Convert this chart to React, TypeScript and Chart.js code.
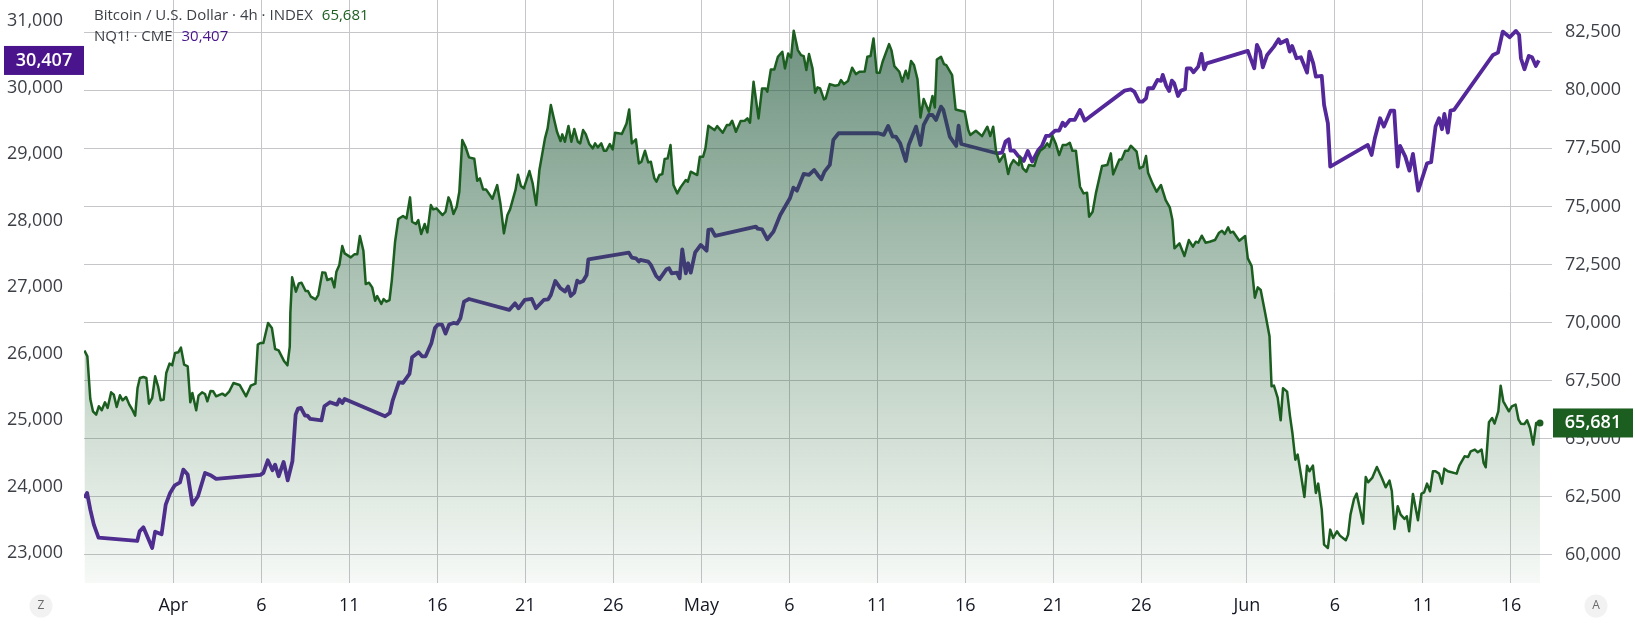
import React, { useEffect, useRef } from 'react';
import { Chart, registerables } from 'chart.js';

Chart.register(...registerables);

// x positions are counted in 4h bars since Apr 1
const tickBars = [0, 30, 60, 90, 120, 150, 180, 210, 240, 270, 300, 330, 366, 396, 426, 456];
const tickLabels = ['Apr', '6', '11', '16', '21', '26', 'May', '6', '11', '16', '21', '26', 'Jun', '6', '11', '16'];
const monthBars = [0, 180, 366];
const nqTicks = [23000, 24000, 25000, 26000, 27000, 28000, 29000, 30000, 31000];
const btcTicks = [60000, 62500, 65000, 67500, 70000, 72500, 75000, 77500, 80000, 82500];

const btcBars = [
  -30.3, -29.3, -28.3, -27.4, -26.3, -25.4, -24.4, -23.3, -22.4, -21.2, -20.3, -19.3, -18.2, -17.3, -16.1, -15, -14.1, -13, -12.2, -11.4,
  -10.2, -9.2, -8.3, -7.2, -6.2, -5.2, -4.3, -3.3, -2.4, -1.3, -0.4, 0.6, 1.7, 2.6, 3.7, 4.9, 5.8, 6.5, 7.8, 8.6,
  9.8, 10.8, 11.6, 12.7, 13.6, 14.6, 16.7, 17.7, 19.1, 20.5, 22.6, 24.8, 26.4, 28, 28.8, 29.7, 30.7, 32.3, 33.6, 34.7,
  35.9, 37.8, 38.9, 39.7, 39.9, 40.5, 41.8, 42.8, 43.7, 45.1, 45.9, 46.9, 48.5, 49.4, 50.8, 51.8, 52.5, 54, 54.9, 55.6,
  56.6, 57.6, 58.4, 60.5, 61.7, 62.7, 63.6, 64.8, 65.6, 66.7, 67.8, 68.8, 69.5, 70.9, 71.7, 72.6, 73.7, 74.5, 75.6, 76.7,
  78.3, 79.5, 80.7, 81.4, 82.7, 83.5, 84.5, 85.7, 86.6, 87.8, 88.6, 89.7, 91.8, 92.8, 93.8, 94.5, 95.5, 96.6, 97.5, 98.5,
  99.6, 100.8, 102.6, 103.6, 104.5, 105.6, 106.6, 108.8, 110.4, 111.5, 112.7, 113.9, 114.8, 116.7, 117.5, 118.5, 119.5, 121.4, 122.5, 123.7,
  124.8, 126.7, 127.6, 128.7, 129.6, 130.8, 132, 132.6, 133.5, 134.7, 135.7, 136.7, 137.9, 138.7, 139.7, 140.6, 141.8, 143, 143.8, 144.7,
  145.9, 146.8, 147.6, 148.8, 149.8, 150.6, 152.2, 152.9, 154.5, 155.4, 156.3, 157.7, 158.7, 159.6, 160.8, 161.9, 162.8, 164, 164.7, 165.7,
  166.7, 167.5, 168.5, 169.5, 170.5, 171.8, 172.9, 174.7, 175.4, 176.4, 178.6, 179.5, 180.6, 181.4, 182.4, 184.5, 185.4, 187.3, 188.7, 189.6,
  190.5, 191.8, 193.4, 194.8, 195.7, 196.6, 197.8, 199.5, 200.7, 201.9, 202.5, 203.7, 204.9, 206.1, 207.6, 208.5, 209.6, 210.6, 211.5, 212.9,
  214, 214.9, 215.8, 216.7, 217.9, 218.8, 219.6, 220.5, 221.8, 222.4, 223.8, 225.6, 226.8, 227.6, 228.6, 230, 231.4, 232.7, 233.9, 235.7,
  236.6, 237.7, 238.7, 239.8, 240.8, 241.8, 244, 244.8, 245.8, 247.5, 248.5, 249.7, 250.5, 251.5, 252.5, 253.7, 254.7, 255.8, 257.6, 258.8,
  259.6, 260.3, 261.7, 262.7, 263.5, 265.5, 266.7, 269.8, 271, 271.7, 273.6, 275.7, 277.5, 278.5, 279.5, 280.5, 281.6, 283.3, 284.6, 285.4,
  286.4, 288.2, 288.6, 289.6, 290.8, 291.7, 293.5, 294.5, 295.5, 296.9, 297.9, 298.7, 299.7, 300.8, 302, 303.2, 304.4, 305.6, 306.5, 307.7,
  309.1, 310.3, 311.5, 312.2, 313.4, 314.5, 316.6, 318.4, 319.6, 320.4, 322.5, 323.3, 324.5, 325.5, 326.4, 328.4, 329.4, 330.6, 331.6, 332.3,
  333.8, 335.2, 336.7, 338.3, 339.7, 340.6, 341.3, 343, 344.7, 346.2, 347.6, 348.6, 349.4, 350.6, 351.9, 353.3, 355.1, 356.5, 357.5, 358.4,
  359.6, 360.4, 361.3, 363.4, 365.4, 366.3, 367.6, 368.7, 369.7, 370.7, 372.2, 373.7, 374.4, 375.2, 376.5, 377.5, 378.3, 379.7, 380.7, 381.5,
  382.5, 383.3, 384.5, 385.6, 386.5, 387.3, 388.5, 389.5, 390.3, 391.5, 392.3, 393.6, 394.4, 395.4, 396.7, 397.7, 399.7, 400.5, 401.3, 402.5,
  403.4, 405.6, 406.5, 407.3, 408.7, 410.3, 412, 413.3, 414.6, 415.4, 416.3, 417.4, 418.4, 419.7, 420.5, 421.3, 422.6, 424.3, 425.5, 426.4,
  427.4, 428.4, 429.4, 430.3, 431.5, 432.5, 433.3, 434.5, 437.5, 438.4, 440.2, 441.4, 442.3, 443.7, 444.7, 446, 446.7, 447.4, 448.5, 449.6,
  450.4, 451.7, 452.5, 453.4, 455.3, 456.3, 457.6, 458.6, 459.4, 460.6, 461.5, 462.5, 463.6, 464.6, 465.9,
];
const btcClose = [
  68793, 68549, 66713, 66183, 66039, 66398, 66226, 66570, 66326, 67000, 66900, 66369, 66871, 66656, 66799, 66470, 66283, 65996, 67186, 67617,
  67660, 67617, 66513, 66756, 67688, 67258, 66656, 66685, 67832, 68233, 68162, 68692, 68721, 68922, 68190, 68119, 66570, 66971, 66226, 66857,
  67000, 66928, 66613, 67057, 67043, 66828, 66943, 66857, 67043, 67402, 67316, 66828, 67287, 67373, 69051, 69122, 69122, 69983, 69768, 68864,
  68807, 68334, 68162, 68979, 70426, 71946, 71329, 71688, 71717, 71358, 71358, 71114, 71000, 71186, 72161, 72147, 71831, 71903, 71516, 72190,
  72477, 73294, 72979, 72807, 72936, 72936, 73724, 73093, 71659, 71717, 71516, 70942, 71143, 70799, 71014, 70900, 70971, 71831, 73480, 74456,
  74585, 74484, 75388, 74341, 74241, 74413, 73810, 74241, 73882, 75058, 74871, 74915, 74628, 74771, 75388, 75201, 74671, 74986, 75632, 77854,
  77567, 77108, 77051, 76105, 76205, 75732, 75732, 75330, 75918, 75130, 73839, 74628, 74871, 75732, 76363, 75875, 75775, 76521, 75990, 75058,
  76564, 77926, 78356, 79360, 78858, 78213, 77811, 78098, 77783, 78456, 77783, 78327, 77783, 77711, 78284, 78112, 77682, 77496, 77711, 77539,
  77711, 77395, 77395, 77682, 77453, 78170, 78141, 78112, 78571, 79173, 77711, 77883, 76850, 76922, 77395, 76893, 76922, 76205, 76062, 76349,
  76391, 77037, 77065, 77639, 75918, 75560, 75818, 76133, 76062, 76492, 76349, 77137, 77137, 77496, 78471, 78284, 78456, 78170, 78499, 78499,
  78686, 78213, 78672, 78686, 78786, 78600, 80364, 78786, 80077, 80077, 79933, 80894, 80894, 81439, 81654, 80937, 81583, 81410, 82558, 81726,
  81511, 81468, 80866, 81554, 80937, 79890, 80120, 80077, 79604, 79647, 80263, 80192, 80220, 80435, 80263, 80392, 80966, 80693, 80794, 80808,
  81439, 81468, 82228, 80751, 80751, 81224, 81984, 81726, 81038, 80794, 80364, 80837, 80507, 81253, 81081, 80464, 78829, 79618, 79073, 79747,
  79259, 81324, 81439, 81124, 81081, 80650, 79173, 79073, 78284, 78069, 78256, 78026, 78428, 78026, 78428, 77352, 76922, 77252, 76391, 76779,
  76994, 76779, 77137, 76635, 76492, 76779, 76736, 77137, 77395, 77524, 77711, 77567, 78026, 77711, 77209, 77639, 77639, 77739, 77395, 77395,
  75847, 75560, 75589, 74556, 74771, 75560, 76736, 76779, 77281, 76377, 77022, 77022, 77395, 77395, 77610, 77352, 76635, 76707, 77166, 76449,
  75990, 75632, 75918, 75273, 74958, 74412, 73194, 73409, 72864, 73552, 73265, 73481, 73438, 73739, 73438, 73481, 73552, 73868, 73954, 73810,
  74097, 73868, 73911, 73523, 73724, 72764, 72434, 71071, 71516, 71401, 70426, 69409, 67258, 67287, 66756, 65795, 67172, 67029, 65968, 65251,
  64103, 64319, 63386, 62497, 63845, 63601, 63845, 62669, 63071, 61952, 60447, 60303, 61092, 60733, 61020, 60834, 60633, 60877, 61737, 62411,
  62641, 61350, 63358, 63128, 63315, 63788, 63315, 62913, 63200, 62741, 61121, 62096, 61737, 61551, 61666, 61020, 62626, 61494, 62641, 62698,
  63071, 62741, 63601, 63601, 63501, 63071, 63716, 63601, 63501, 63845, 64247, 64218, 64462, 64534, 64419, 64534, 63960, 63774, 65709, 65896,
  65652, 66183, 67287, 66613, 66183, 66398, 66470, 65824, 65652, 65638, 65795, 65466, 64749, 65681, 65681,
];

const nqBars = [
  -30.3, -29.4, -28.3, -27.1, -25.5, -12.3, -11.5, -10.2, -7.2, -6.2, -4, -2.6, -1.1, 0.5, 2.3, 3.4, 4.9, 6.5, 8.4, 10.8,
  12.9, 14.6, 29.7, 30.7, 32.2, 33.8, 34.7, 35.9, 37.6, 39, 40.6, 41.7, 42.5, 43.5, 44.9, 45.7, 46.7, 50.5, 51.5, 53.4,
  55.8, 56.6, 57.6, 58.4, 72.2, 73.8, 74.8, 76.9, 78.3, 80.5, 81.4, 83.6, 84.8, 86, 88, 89.2, 90.2, 91.6, 92.8, 94,
  95.5, 96.8, 97.9, 99.1, 100.8, 114.5, 116.5, 117.7, 119.8, 122.2, 123.6, 126.3, 127.8, 128.7, 130.2, 132, 133.5, 134.6, 135.5, 136.7,
  137.7, 138.5, 139.7, 140.9, 141.5, 155.3, 156.3, 157.7, 158.7, 159.2, 161.9, 162.8, 164.6, 165.7, 168.1, 169, 169.9, 171.7, 172.6, 173.5,
  174.7, 175.5, 176.4, 177.9, 179.8, 181.8, 182.4, 183.5, 184.7, 198.6, 199.2, 200.7, 202.5, 204.6, 206.9, 210.2, 211.4, 212.6, 214.9, 216.7,
  218.5, 219.7, 220.9, 222, 223.8, 225, 226.8, 240.3, 242.2, 243.7, 245.2, 246.3, 247.8, 249.7, 250.7, 253.2, 254.7, 255.8, 257.6, 258.8,
  260, 261.7, 262.5, 264.7, 266.9, 267.7, 268.6, 280.7, 282.5, 283.7, 284.8, 285.4, 286.6, 288, 289.9, 291.3, 292.8, 294.9, 296.1, 297.5,
  298.7, 300.6, 302, 303.2, 304, 305.6, 307.3, 309.1, 310.7, 312.2, 324.3, 326.4, 327.6, 329.3, 330.4, 331.6, 332.3, 334, 335.5, 336.7,
  337.3, 338.5, 339.5, 340.4, 341.2, 342.5, 343.5, 344.9, 345.5, 346.8, 347.8, 349.4, 350.5, 351.4, 352.3, 366.3, 368.5, 369.4, 370.5, 371.4,
  372.9, 375.2, 376.8, 377.4, 379.6, 380.6, 381.4, 382.9, 384.4, 386.5, 387.3, 388.6, 389.5, 391.5, 392.3, 393.6, 394.4, 407.2, 408.5, 409.6,
  411.4, 412.7, 415, 416.2, 417.4, 418.2, 420, 421.4, 422.6, 424.4, 427.4, 428.8, 430.3, 431.5, 432.5, 433.3, 434.5, 435.4, 436.6, 449.9,
  451.6, 453.2, 455.6, 457.7, 458.8, 459.4, 460.6, 462.1, 463.2, 464.5, 465.5,
];
const nqClose = [
  23828, 23903, 23652, 23427, 23231, 23181, 23326, 23387, 23076, 23321, 23281, 23727, 23903, 24018, 24063, 24254, 24179, 23727, 23853, 24204,
  24164, 24114, 24174, 24204, 24394, 24244, 24329, 24154, 24369, 24093, 24379, 25081, 25171, 25181, 25066, 25066, 25016, 24996, 25206, 25267,
  25231, 25307, 25256, 25317, 25056, 25106, 25297, 25567, 25557, 25693, 25943, 26018, 25958, 25958, 26159, 26384, 26435, 26435, 26299, 26435,
  26460, 26450, 26535, 26780, 26820, 26655, 26755, 26680, 26805, 26820, 26680, 26805, 26815, 26880, 27091, 26981, 26931, 27006, 26865, 26915,
  27096, 27066, 27091, 27181, 27417, 27517, 27442, 27432, 27382, 27407, 27382, 27332, 27166, 27116, 27266, 27282, 27206, 27216, 27131, 27567,
  27206, 27357, 27216, 27522, 27632, 27547, 27858, 27868, 27768, 27908, 27878, 27868, 27718, 27833, 28084, 28334, 28495, 28449, 28700, 28685,
  28760, 28685, 28620, 28735, 28836, 29212, 29312, 29312, 29287, 29422, 29262, 29262, 29161, 28896, 29136, 29412, 29136, 29437, 29587, 29587,
  29512, 29713, 29663, 29262, 29121, 29427, 29151, 29011, 29021, 29187, 29222, 29051, 29051, 28971, 28896, 29046, 28886, 29061, 29121, 29272,
  29272, 29352, 29352, 29472, 29422, 29512, 29512, 29663, 29502, 29552, 29953, 29973, 29938, 29788, 29788, 29838, 29989, 29989, 30114, 30099,
  30189, 30024, 29948, 30104, 30064, 29873, 29953, 29973, 30289, 30289, 30229, 30314, 30505, 30274, 30364, 30550, 30289, 30640, 30540, 30304,
  30490, 30615, 30725, 30665, 30715, 30540, 30625, 30440, 30455, 30224, 30540, 30364, 30164, 30174, 29738, 29462, 28810, 29136, 28986, 29237,
  29537, 29412, 29653, 29653, 28810, 29121, 28961, 28750, 29001, 28449, 28861, 28876, 29412, 29537, 29372, 29603, 29322, 29653, 29663, 30490,
  30525, 30841, 30756, 30851, 30791, 30440, 30274, 30475, 30455, 30324, 30407,
];

const BTC_GREEN = '#1b5e20';
const NQ_PURPLE = '#54279a';
const TAG_PURPLE = '#4a148c';
const GRID = '#c6c6ca';
const FONT = '"Open Sans", sans-serif';

const money = (v: number) => Math.round(v).toLocaleString('en-US');

// header lines, price tags and the two corner buttons
const overlay = {
  id: 'overlay',
  afterDraw(chart: any) {
    const { ctx, scales } = chart;
    ctx.save();
    ctx.textBaseline = 'middle';

    const header = (label: string, value: string, color: string, y: number) => {
      ctx.font = `15px ${FONT}`;
      ctx.textAlign = 'left';
      ctx.fillStyle = '#3c3f46';
      ctx.fillText(label, 94, y);
      ctx.fillStyle = color;
      ctx.fillText(value, 94 + ctx.measureText(label).width + 9, y);
    };
    header('Bitcoin / U.S. Dollar · 4h · INDEX', money(btcClose[btcClose.length - 1]), BTC_GREEN, 16);
    header('NQ1! · CME', money(nqClose[nqClose.length - 1]), TAG_PURPLE, 37);

    const tag = (x: number, y: number, value: number, color: string) => {
      ctx.fillStyle = color;
      ctx.fillRect(x, y - 14.5, 80, 29);
      ctx.fillStyle = '#ffffff';
      ctx.font = `600 18px ${FONT}`;
      ctx.textAlign = 'center';
      ctx.fillText(money(value), x + 40, y);
    };
    tag(4, scales.nq.getPixelForValue(nqClose[nqClose.length - 1]), nqClose[nqClose.length - 1], TAG_PURPLE);
    tag(1553, scales.btc.getPixelForValue(btcClose[btcClose.length - 1]), btcClose[btcClose.length - 1], BTC_GREEN);

    const button = (x: number, letter: string) => {
      ctx.beginPath();
      ctx.arc(x, 606, 11.5, 0, Math.PI * 2);
      ctx.fillStyle = '#f2f2f2';
      ctx.fill();
      ctx.fillStyle = '#6a6a6a';
      ctx.font = `12px ${FONT}`;
      ctx.textAlign = 'center';
      ctx.fillText(letter, x, 606);
    };
    button(41, 'Z');
    button(1596, 'A');
    ctx.restore();
  },
};

const App: React.FC = () => {
  const chartRef = useRef<HTMLCanvasElement>(null);
  const chartInstance = useRef<Chart | null>(null);

  useEffect(() => {
    if (!chartRef.current) return;
    const ctx = chartRef.current.getContext('2d');
    if (!ctx) return;

    chartInstance.current = new Chart(ctx, {
      type: 'line',
      data: {
        datasets: [
          // first dataset paints last, the area has to cover the NQ line
          {
            label: 'Bitcoin / U.S. Dollar',
            data: btcBars.map((x, i) => ({ x, y: btcClose[i] })),
            yAxisID: 'btc',
            borderColor: BTC_GREEN,
            borderWidth: 2.5,
            borderJoinStyle: 'round',
            tension: 0,
            fill: 'start',
            backgroundColor: (context: any) => {
              const g = context.chart.ctx.createLinearGradient(0, 0, 0, 583);
              g.addColorStop(0, 'rgba(28, 82, 55, 0.67)');
              g.addColorStop(0.55, 'rgba(30, 92, 52, 0.32)');
              g.addColorStop(1, 'rgba(30, 100, 40, 0.04)');
              return g;
            },
            pointRadius: (context: any) => (context.dataIndex === btcBars.length - 1 ? 3.5 : 0),
            pointBackgroundColor: BTC_GREEN,
            pointBorderWidth: 0,
          },
          {
            label: 'NQ1!',
            data: nqBars.map((x, i) => ({ x, y: nqClose[i] })),
            yAxisID: 'nq',
            borderColor: NQ_PURPLE,
            borderWidth: 3.8,
            borderJoinStyle: 'round',
            tension: 0,
            fill: false,
            pointRadius: 0,
          },
        ],
      },
      options: {
        responsive: false,
        animation: false,
        layout: { padding: 0, autoPadding: false },
        plugins: { legend: { display: false }, tooltip: { enabled: false } },
        scales: {
          x: {
            type: 'linear',
            min: -30.45,
            max: 470,
            afterBuildTicks: (scale: any) => {
              scale.ticks = tickBars.map((value) => ({ value }));
            },
            afterFit: (scale: any) => {
              scale.height = 43;
              scale.paddingLeft = 0;
              scale.paddingRight = 0;
            },
            grid: { color: GRID, lineWidth: 1, drawTicks: false },
            border: { display: false },
            ticks: {
              autoSkip: false,
              maxRotation: 0,
              padding: 12,
              color: '#131722',
              font: (context: any) => ({
                family: FONT,
                size: 18,
                weight: context.tick && monthBars.includes(context.tick.value) ? '500' : 'normal',
              }),
              callback: (value: any) => tickLabels[tickBars.indexOf(value)],
            },
          },
          nq: {
            type: 'linear',
            position: 'left',
            min: 22549,
            max: 31316,
            afterBuildTicks: (scale: any) => {
              scale.ticks = nqTicks.map((value) => ({ value }));
            },
            afterFit: (scale: any) => {
              // tick padding would otherwise push the plot down from the top edge
              scale.width = 84;
              scale.paddingTop = 0;
              scale.paddingBottom = 0;
            },
            grid: { display: false },
            border: { display: false },
            ticks: {
              autoSkip: false,
              padding: 13,
              color: '#3c3f46',
              font: { family: FONT, size: 18 },
              callback: (value: any) => money(value),
            },
          },
          btc: {
            type: 'linear',
            position: 'right',
            min: 58795,
            max: 83881,
            afterBuildTicks: (scale: any) => {
              scale.ticks = btcTicks.map((value) => ({ value }));
            },
            afterFit: (scale: any) => {
              scale.width = 83;
              scale.paddingTop = 0;
              scale.paddingBottom = 0;
            },
            grid: { color: GRID, lineWidth: 1, drawTicks: false },
            border: { display: false },
            ticks: {
              autoSkip: false,
              padding: 13,
              color: '#3c3f46',
              font: { family: FONT, size: 18 },
              callback: (value: any) => money(value),
            },
          },
        },
      },
      plugins: [overlay],
    } as any);

    return () => {
      if (chartInstance.current) {
        chartInstance.current.destroy();
      }
    };
  }, []);

  return (
    <div style={{ position: 'fixed', left: 0, top: 0, width: 1635, height: 626, background: '#ffffff' }}>
      <canvas ref={chartRef} width={1635} height={626} style={{ display: 'block' }} />
    </div>
  );
};

export default App;
